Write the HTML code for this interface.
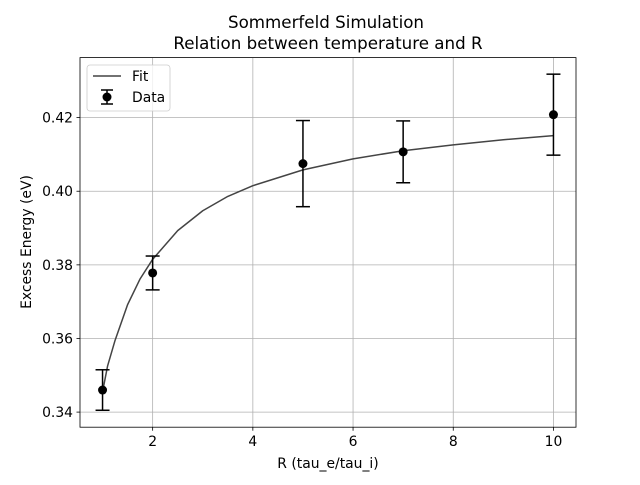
<!DOCTYPE html>
<html><head><meta charset="utf-8"><style>
body{margin:0;background:#fff;font-family:"Liberation Sans","DejaVu Sans",sans-serif}
svg text{font-family:"DejaVu Sans","Liberation Sans",sans-serif}
</style></head><body>
<svg id="chart" width="640" height="480" xmlns="http://www.w3.org/2000/svg">
<rect width="640" height="480" fill="#fff"/>
<g id="grid"></g><g id="series"></g><g id="axes"></g>
</svg>
<script>
const xTicks=[2,4,6,8,10];
const yTicks=[0.34,0.36,0.38,0.40,0.42];
const dataR=[1,2,5,7,10];
const dataE=[0.346,0.3778,0.4075,0.4107,0.4208];
const dataErr=[0.0055,0.0046,0.0117,0.0084,0.011];
const fitR=[1,1.1,1.25,1.5,1.75,2,2.5,3,3.5,4,5,6,7,8,9,10];
const fitE=[0.3455,0.3525,0.3595,0.3692,0.3762,0.3815,0.3893,0.3947,0.3986,0.4015,0.4058,0.4088,0.4110,0.4126,0.4140,0.4151];
const L=80,R=576,T=57.6,B=427.2,xmin=0.55,xmax=10.45,ymin=0.3359,ymax=0.4363;
const sx=v=>L+(v-xmin)/(xmax-xmin)*(R-L);
const sy=v=>B-(v-ymin)/(ymax-ymin)*(B-T);
const NS="http://www.w3.org/2000/svg";
function mk(tag,attrs,parent,text){const e=document.createElementNS(NS,tag);for(const k in attrs)e.setAttribute(k,attrs[k]);if(text!==undefined)e.textContent=text;parent.appendChild(e);return e;}
const grid=document.getElementById('grid'),ser=document.getElementById('series'),ax=document.getElementById('axes');
xTicks.forEach(t=>{const x=sx(t);
 const g=mk('line',{x1:x,x2:x,y1:T,y2:B,stroke:'#b0b0b0','stroke-width':0.8},grid);
 
 
 mk('line',{x1:x,x2:x,y1:B,y2:B+3.5,stroke:'#000','stroke-width':0.8},ax);
 const tx=mk('text',{x:x,y:B+19,'font-size':13.9,'text-anchor':'middle'},ax,String(t));
 
 
});
yTicks.forEach(t=>{const y=sy(t);
 const g=mk('line',{x1:L,x2:R,y1:y,y2:y,stroke:'#b0b0b0','stroke-width':0.8},grid);
 
 
 mk('line',{x1:L-3.5,x2:L,y1:y,y2:y,stroke:'#000','stroke-width':0.8},ax);
 const tx=mk('text',{x:L-7,y:y+5,'font-size':13.9,'text-anchor':'end'},ax,t.toFixed(2));
 
 
});
const fit=mk('polyline',{points:fitR.map((r,i)=>sx(r)+','+sy(fitE[i])).join(' '),fill:'none',stroke:'#444','stroke-width':1.5,'stroke-linejoin':'round'},ser);


dataR.forEach((r,i)=>{const x=sx(r),y1=sy(dataE[i]+dataErr[i]),y2=sy(dataE[i]-dataErr[i]);
 const g=mk('g',{},ser);
 
 
 mk('line',{x1:x,x2:x,y1:y1,y2:y2,stroke:'#000','stroke-width':1.5},g);
 mk('line',{x1:x-7,x2:x+7,y1:y1,y2:y1,stroke:'#000','stroke-width':1.5},g);
 mk('line',{x1:x-7,x2:x+7,y1:y2,y2:y2,stroke:'#000','stroke-width':1.5},g);
 mk('circle',{cx:x,cy:sy(dataE[i]),r:4.5,fill:'#000'},g);
});
const fr=mk('rect',{x:L,y:T,width:R-L,height:B-T,fill:'none',stroke:'#000','stroke-width':0.8},ax);


const t1=mk('text',{x:326,y:28,'font-size':16.7,'text-anchor':'middle'},ax,'Sommerfeld Simulation');


const t2=mk('text',{x:328,y:49,'font-size':16.7,'text-anchor':'middle'},ax,'Relation between temperature and R');


const xl=mk('text',{x:328,y:468,'font-size':13.9,'text-anchor':'middle'},ax,'R (tau_e/tau_i)');


const yl=mk('text',{x:0,y:0,'font-size':13.9,'text-anchor':'middle',transform:'translate(31,242) rotate(-90)'},ax,'Excess Energy (eV)');


const lg=mk('g',{},ax);


mk('rect',{x:87,y:65,width:83,height:46,rx:3,fill:'#fff','fill-opacity':0.8,stroke:'#ccc','stroke-width':0.8},lg);
mk('line',{x1:93,x2:121,y1:76,y2:76,stroke:'#444','stroke-width':1.5},lg);
const le1=mk('text',{x:132,y:81,'font-size':13.9},lg,'Fit');


mk('line',{x1:107,x2:107,y1:90,y2:104,stroke:'#000','stroke-width':1.5},lg);
mk('line',{x1:101,x2:113,y1:90,y2:90,stroke:'#000','stroke-width':1.5},lg);
mk('line',{x1:101,x2:113,y1:104,y2:104,stroke:'#000','stroke-width':1.5},lg);
mk('circle',{cx:107,cy:97,r:4.5,fill:'#000'},lg);
const le2=mk('text',{x:132,y:102,'font-size':13.9},lg,'Data');


</script>
</body></html>
